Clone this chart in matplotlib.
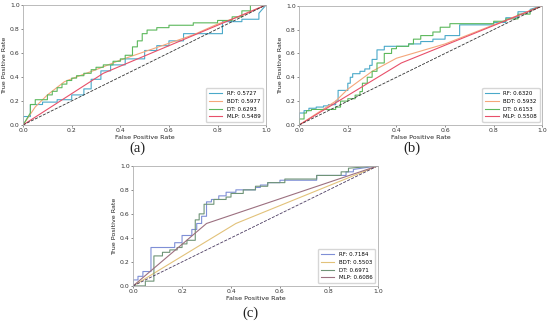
import numpy as np
import matplotlib
matplotlib.use('Agg')
import matplotlib.pyplot as plt

# ---- panel (a) ----
a_rf_fpr = [0, 0, 0.03, 0.03, 0.08, 0.08, 0.14, 0.14, 0.2, 0.2, 0.25, 0.25, 0.28, 0.28, 0.32, 0.32,
            0.36, 0.36, 0.42, 0.42, 0.5, 0.5, 0.55, 0.55, 0.6, 0.6, 0.66, 0.66, 0.82, 0.82, 0.9, 0.9,
            0.97, 0.97, 1.0]
a_rf_tpr = [0, 0.07, 0.07, 0.17, 0.17, 0.19, 0.19, 0.21, 0.21, 0.25, 0.25, 0.3, 0.3, 0.38, 0.38, 0.45,
            0.45, 0.5, 0.5, 0.55, 0.55, 0.62, 0.62, 0.66, 0.66, 0.7, 0.7, 0.76, 0.76, 0.86, 0.86, 0.88,
            0.88, 0.93, 1.0]
a_bdt_fpr = [0, 0.05, 0.1, 0.17, 0.22, 0.3, 0.4, 0.5, 0.6, 0.7, 0.8, 0.9, 1.0]
a_bdt_tpr = [0, 0.15, 0.25, 0.36, 0.4, 0.46, 0.54, 0.61, 0.68, 0.75, 0.84, 0.91, 1.0]
a_dt_fpr = [0, 0.03, 0.03, 0.05, 0.05, 0.1, 0.1, 0.12, 0.12, 0.14, 0.14, 0.16, 0.16, 0.18, 0.18, 0.2,
            0.2, 0.22, 0.22, 0.25, 0.25, 0.28, 0.28, 0.3, 0.3, 0.33, 0.33, 0.37, 0.37, 0.4, 0.4, 0.42,
            0.42, 0.45, 0.45, 0.47, 0.47, 0.49, 0.49, 0.51, 0.51, 0.55, 0.55, 0.6, 0.6, 0.7, 0.7, 0.8,
            0.8, 0.86, 0.86, 0.9, 0.9, 0.935, 0.935, 1.0]
a_dt_tpr = [0, 0.1, 0.17, 0.17, 0.21, 0.21, 0.25, 0.25, 0.28, 0.28, 0.31, 0.31, 0.34, 0.34, 0.37, 0.37,
            0.39, 0.39, 0.41, 0.41, 0.43, 0.43, 0.46, 0.46, 0.48, 0.48, 0.5, 0.5, 0.53, 0.53, 0.55, 0.55,
            0.58, 0.58, 0.65, 0.65, 0.7, 0.7, 0.76, 0.76, 0.79, 0.79, 0.81, 0.81, 0.83, 0.83, 0.85, 0.85,
            0.87, 0.87, 0.9, 0.9, 0.95, 0.95, 1.0, 1.0]
a_mlp_fpr = [0, 0.33, 1.0]
a_mlp_tpr = [0, 0.43, 1.0]
a_auc = [0.5727, 0.5977, 0.6293, 0.5489]

# ---- panel (b) ----
b_rf_fpr = [0, 0, 0.02, 0.02, 0.04, 0.04, 0.07, 0.07, 0.1, 0.1, 0.12, 0.12, 0.15, 0.15, 0.16, 0.16,
            0.2, 0.2, 0.21, 0.21, 0.22, 0.22, 0.25, 0.25, 0.27, 0.27, 0.29, 0.29, 0.3, 0.3, 0.32, 0.32,
            0.35, 0.35, 0.45, 0.45, 0.5, 0.5, 0.55, 0.55, 0.6, 0.6, 0.66, 0.66, 0.8, 0.8, 0.85, 0.85,
            0.9, 0.9, 0.95, 0.95, 1.0]
b_rf_tpr = [0, 0.1, 0.1, 0.12, 0.12, 0.14, 0.14, 0.15, 0.15, 0.16, 0.16, 0.17, 0.17, 0.2, 0.2, 0.29,
            0.29, 0.35, 0.35, 0.4, 0.4, 0.43, 0.43, 0.45, 0.45, 0.47, 0.47, 0.5, 0.5, 0.55, 0.55, 0.63,
            0.63, 0.66, 0.66, 0.68, 0.68, 0.7, 0.7, 0.72, 0.72, 0.75, 0.75, 0.84, 0.84, 0.86, 0.86, 0.9,
            0.9, 0.95, 0.95, 0.97, 1.0]
b_bdt_fpr = [0, 0.15, 0.2, 0.3, 0.4, 0.6, 0.8, 1.0]
b_bdt_tpr = [0, 0.2, 0.3, 0.45, 0.56, 0.68, 0.84, 1.0]
b_dt_fpr = [0, 0, 0.02, 0.02, 0.03, 0.03, 0.05, 0.05, 0.15, 0.15, 0.17, 0.17, 0.2, 0.2, 0.23, 0.23,
            0.25, 0.25, 0.26, 0.26, 0.28, 0.28, 0.3, 0.3, 0.32, 0.32, 0.35, 0.35, 0.38, 0.38, 0.4, 0.4,
            0.45, 0.45, 0.47, 0.47, 0.5, 0.5, 0.55, 0.55, 0.58, 0.58, 0.62, 0.62, 0.8, 0.8, 0.85, 0.85,
            0.9, 0.9, 0.95, 0.95, 1.0]
b_dt_tpr = [0, 0.05, 0.05, 0.1, 0.1, 0.12, 0.12, 0.13, 0.13, 0.15, 0.15, 0.2, 0.2, 0.22, 0.22, 0.25,
            0.25, 0.28, 0.28, 0.35, 0.35, 0.4, 0.4, 0.45, 0.45, 0.52, 0.52, 0.6, 0.6, 0.64, 0.64, 0.66,
            0.66, 0.68, 0.68, 0.72, 0.72, 0.75, 0.75, 0.78, 0.78, 0.82, 0.82, 0.85, 0.85, 0.87, 0.87, 0.89,
            0.89, 0.93, 0.93, 0.96, 1.0]
b_mlp_fpr = [0, 0.42, 1.0]
b_mlp_tpr = [0, 0.52, 1.0]
b_auc = [0.6320, 0.5932, 0.6153, 0.5508]

# ---- panel (c) ----
c_rf_fpr = [0, 0, 0.02, 0.02, 0.04, 0.04, 0.073, 0.073, 0.17, 0.17, 0.2, 0.2, 0.24, 0.24, 0.26, 0.26,
            0.28, 0.28, 0.3, 0.3, 0.32, 0.32, 0.35, 0.35, 0.38, 0.38, 0.42, 0.42, 0.5, 0.5, 0.52, 0.52,
            0.55, 0.55, 0.6, 0.6, 0.75, 0.75, 0.87, 0.87, 0.9, 0.9, 1.0]
c_rf_tpr = [0, 0.05, 0.05, 0.08, 0.08, 0.12, 0.12, 0.32, 0.32, 0.36, 0.36, 0.42, 0.42, 0.47, 0.47, 0.52,
            0.52, 0.58, 0.58, 0.7, 0.7, 0.72, 0.72, 0.75, 0.75, 0.78, 0.78, 0.8, 0.8, 0.82, 0.82, 0.84,
            0.84, 0.86, 0.86, 0.88, 0.88, 0.92, 0.92, 0.95, 0.95, 0.97, 1.0]
c_bdt_fpr = [0, 0.42, 1.0]
c_bdt_tpr = [0, 0.52, 1.0]
c_dt_fpr = [0, 0.05, 0.05, 0.085, 0.085, 0.12, 0.12, 0.15, 0.15, 0.18, 0.18, 0.2, 0.2, 0.22, 0.22, 0.254,
            0.254, 0.27, 0.27, 0.29, 0.29, 0.33, 0.33, 0.38, 0.38, 0.4, 0.4, 0.45, 0.45, 0.5, 0.5, 0.55,
            0.55, 0.62, 0.62, 0.75, 0.75, 0.85, 0.85, 0.88, 0.88, 1.0]
c_dt_tpr = [0, 0.0, 0.04, 0.04, 0.25, 0.25, 0.28, 0.28, 0.3, 0.3, 0.32, 0.32, 0.35, 0.35, 0.38, 0.38,
            0.55, 0.55, 0.6, 0.6, 0.68, 0.68, 0.72, 0.72, 0.74, 0.74, 0.77, 0.77, 0.8, 0.8, 0.83, 0.83,
            0.86, 0.86, 0.89, 0.89, 0.92, 0.92, 0.95, 0.95, 0.98, 1.0]
c_mlp_fpr = [0, 0.3, 1.0]
c_mlp_tpr = [0, 0.52, 1.0]
c_auc = [0.7184, 0.5503, 0.6971, 0.6086]

models = ['RF', 'BDT', 'DT', 'MLP']
colors_ab = ['#4aa9c9', '#f5a67a', '#5cb85c', '#e8506a']
colors_c = ['#7f8fd6', '#e2c27a', '#6f9477', '#9c7080']


def draw_roc(ax, curves, aucs, colors, diag_color):
    for (fpr, tpr), name, auc, col in zip(curves, models, aucs, colors):
        ax.plot(fpr, tpr, color=col, lw=0.8, label='%s: %.4f' % (name, auc))
    ax.plot([0, 1], [0, 1], '--', color=diag_color, lw=0.6)
    ax.set_xlim(0, 1)
    ax.set_ylim(0, 1)
    ax.set_xticks([0, 0.2, 0.4, 0.6, 0.8, 1.0])
    ax.set_yticks([0, 0.2, 0.4, 0.6, 0.8, 1.0])
    ax.tick_params(labelsize=4.4, length=1.5, width=0.4, pad=1, colors='#333333')
    for s in ax.spines.values():
        s.set_color('#b0b0b0')
        s.set_linewidth(0.6)
    ax.set_xlabel('False Positive Rate', fontsize=4.6, labelpad=1, color='#222222')
    ax.set_ylabel('True Positive Rate', fontsize=4.6, labelpad=2, color='#222222')
    ax.legend(loc='lower right', fontsize=4, handlelength=2.4, frameon=True,
              borderpad=0.5, labelspacing=0.5, edgecolor='#cccccc', fancybox=True)


fig = plt.figure(figsize=(5.5, 3.22), dpi=100)

ax_a = fig.add_axes([0.042, 0.612, 0.442, 0.373])
draw_roc(ax_a, [(a_rf_fpr, a_rf_tpr), (a_bdt_fpr, a_bdt_tpr), (a_dt_fpr, a_dt_tpr),
                (a_mlp_fpr, a_mlp_tpr)], a_auc, colors_ab, '#333333')

ax_b = fig.add_axes([0.544, 0.612, 0.442, 0.370])
draw_roc(ax_b, [(b_rf_fpr, b_rf_tpr), (b_bdt_fpr, b_bdt_tpr), (b_dt_fpr, b_dt_tpr),
                (b_mlp_fpr, b_mlp_tpr)], b_auc, colors_ab, '#333333')

ax_c = fig.add_axes([0.242, 0.112, 0.445, 0.373])
draw_roc(ax_c, [(c_rf_fpr, c_rf_tpr), (c_bdt_fpr, c_bdt_tpr), (c_dt_fpr, c_dt_tpr),
                (c_mlp_fpr, c_mlp_tpr)], c_auc, colors_c, '#4a3a60')

for txt, x, y in [('(a)', 137 / 550, 1 - 148 / 322), ('(b)', 412 / 550, 1 - 148 / 322),
                  ('(c)', 250 / 550, 1 - 313 / 322)]:
    fig.text(x, y, txt, ha='center', va='center', fontsize=10.5, family='Liberation Serif',
             color='#222222')

fig.savefig('out.png', dpi=100)
